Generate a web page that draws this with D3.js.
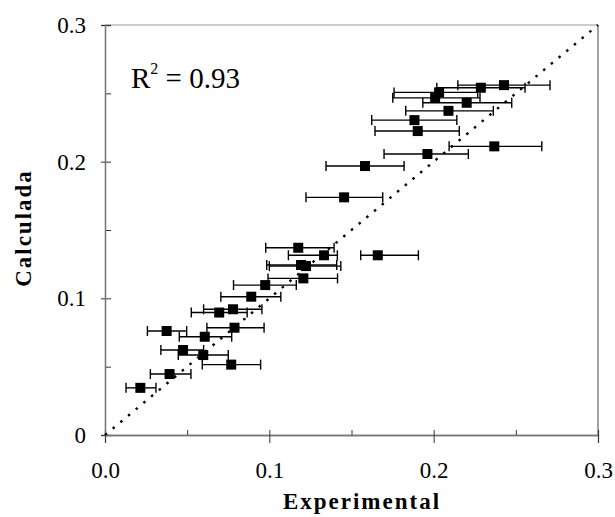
<!DOCTYPE html>
<html>
<head>
<meta charset="utf-8">
<script src="https://cdn.jsdelivr.net/npm/d3@7"></script>
<style>
  body { margin: 0; background: #fff; }
</style>
</head>
<body>
<svg id="chart"></svg>
<script>
// values
var expX   = [0.0215, 0.0393, 0.0375, 0.0475, 0.0598, 0.0607, 0.0768, 0.0788, 0.0695, 0.0779,
              0.0890, 0.0975, 0.1207, 0.1193, 0.1223, 0.1176, 0.1333, 0.1660, 0.1455, 0.1582,
              0.1962, 0.2369, 0.1903, 0.1883, 0.2090, 0.2201, 0.2033, 0.2009, 0.2287, 0.2428]
var calcY  = [0.0345, 0.0446, 0.0761, 0.0622, 0.0585, 0.0719, 0.0515, 0.0785, 0.0896, 0.0920,
              0.1012, 0.1097, 0.1146, 0.1244, 0.1236, 0.1370, 0.1315, 0.1315, 0.1739, 0.1968,
              0.2056, 0.2112, 0.2224, 0.2304, 0.2372, 0.2431, 0.2507, 0.2467, 0.2541, 0.2560]
var errLow = [0.0128, 0.0276, 0.0258, 0.0340, 0.0446, 0.0452, 0.0592, 0.0620, 0.0525, 0.0600,
              0.0705, 0.0782, 0.0992, 0.0984, 0.1000, 0.0978, 0.1116, 0.1556, 0.1223, 0.1345,
              0.1698, 0.2094, 0.1643, 0.1623, 0.1830, 0.1934, 0.1759, 0.1751, 0.2019, 0.2147]
var errHigh= [0.0310, 0.0523, 0.0497, 0.0600, 0.0750, 0.0771, 0.0947, 0.0968, 0.0865, 0.0955,
              0.1070, 0.1164, 0.1415, 0.1410, 0.1435, 0.1394, 0.1414, 0.1907, 0.1690, 0.1820,
              0.2211, 0.2658, 0.2156, 0.2141, 0.2363, 0.2475, 0.2268, 0.2282, 0.2556, 0.2708]

var xTicks = [0, 0.1, 0.2, 0.3]
var xTickLabels = ["0.0", "0.1", "0.2", "0.3"]
var yTicks = [0, 0.1, 0.2, 0.3]
var yTickLabels = ["0", "0.1", "0.2", "0.3"]
var minorTicks = [0, 0.05, 0.1, 0.15, 0.2, 0.25, 0.3]
var identityLine = [0, 0.3]

var serif = "'Liberation Serif', 'Times New Roman', serif"

var dimensions = {
    width: 615,
    height: 517,
    margin: { top: 25, bottom: 82, right: 17, left: 105 }
}

var svg = d3.select("#chart")
            .attr("width", dimensions.width)
            .attr("height", dimensions.height)

var dataset = expX.map((x, i) => ({ x: x, y: calcY[i], lo: errLow[i], hi: errHigh[i] }))

var xScale = d3.scaleLinear()
               .domain([0, 0.3])
               .range([dimensions.margin.left, dimensions.width - dimensions.margin.right])

var yScale = d3.scaleLinear()
               .domain([0, 0.3])
               .range([dimensions.height - dimensions.margin.bottom, dimensions.margin.top])

var x0 = xScale(0), x1 = xScale(0.3), y0 = yScale(0), y1 = yScale(0.3)

// frame: top and right are lighter
svg.append("line").attr("x1", x0).attr("x2", x1).attr("y1", y1).attr("y2", y1)
   .style("stroke", "#9a9a9a").style("stroke-width", 1.2)
svg.append("line").attr("x1", x1).attr("x2", x1).attr("y1", y1).attr("y2", y0)
   .style("stroke", "#444").style("stroke-width", 1)

// inner ticks (every 0.05)
var xInner = svg.append("g")
                .attr("transform", `translate(0,${y0})`)
                .call(d3.axisTop(xScale).tickValues(minorTicks).tickSize(5).tickFormat(""))
var yInner = svg.append("g")
                .attr("transform", `translate(${x0},0)`)
                .call(d3.axisRight(yScale).tickValues(minorTicks).tickSize(6).tickFormat(""))

// outer ticks with labels
var xAxis = svg.append("g")
               .attr("transform", `translate(0,${y0})`)
               .call(d3.axisBottom(xScale).tickValues(xTicks).tickSize(8).tickPadding(19)
                       .tickFormat((d, i) => xTickLabels[i]))
var yAxis = svg.append("g")
               .attr("transform", `translate(${x0},0)`)
               .call(d3.axisLeft(yScale).tickValues(yTicks).tickSize(4).tickPadding(15)
                       .tickFormat((d, i) => yTickLabels[i]))

svg.selectAll(".domain").style("stroke", "#777").style("stroke-width", 1.3)
svg.selectAll(".tick line").style("stroke", "#333").style("stroke-width", 1)
svg.selectAll(".tick text")
   .style("font-size", "23px")
   .style("fill", "#000")

// 1:1 dotted line
svg.append("line")
   .attr("x1", xScale(identityLine[0])).attr("y1", yScale(identityLine[0]))
   .attr("x2", xScale(identityLine[1])).attr("y2", yScale(identityLine[1]))
   .style("stroke", "#000")
   .style("stroke-width", 2.4)
   .style("stroke-dasharray", "2.5,7.5")

// error bars
var bars = svg.append("g").selectAll("g")
              .data(dataset)
              .enter().append("g")
              .style("stroke", "#000")
              .style("stroke-width", 1.4)

bars.append("line")
    .attr("x1", d => xScale(d.lo)).attr("x2", d => xScale(d.hi))
    .attr("y1", d => yScale(d.y)).attr("y2", d => yScale(d.y))
bars.append("line")
    .attr("x1", d => xScale(d.lo)).attr("x2", d => xScale(d.lo))
    .attr("y1", d => yScale(d.y) - 5).attr("y2", d => yScale(d.y) + 5)
bars.append("line")
    .attr("x1", d => xScale(d.hi)).attr("x2", d => xScale(d.hi))
    .attr("y1", d => yScale(d.y) - 5).attr("y2", d => yScale(d.y) + 5)

// squares
svg.append("g").selectAll("rect")
   .data(dataset)
   .enter().append("rect")
   .attr("x", d => xScale(d.x) - 5)
   .attr("y", d => yScale(d.y) - 5)
   .attr("width", 10)
   .attr("height", 10)
   .style("fill", "#000")

// R^2 note
var r2 = svg.append("text")
            .attr("x", 131)
            .attr("y", 88)
            .style("font-size", "29px")
r2.append("tspan").text("R")
r2.append("tspan").attr("dy", -14).style("font-size", "16px").text("2")
r2.append("tspan").attr("dy", 14).text(" = 0.93")

// axis titles
svg.append("text")
   .attr("x", 362)
   .attr("y", 509)
   .attr("text-anchor", "middle")
   .style("font-size", "23px")
   .style("font-weight", "bold")
   .style("letter-spacing", "2px")
   .text("Experimental")

svg.append("text")
   .attr("transform", "translate(31,228) rotate(-90)")
   .attr("text-anchor", "middle")
   .style("font-size", "23px")
   .style("font-weight", "bold")
   .style("letter-spacing", "2px")
   .text("Calculada")

svg.selectAll("g").attr("font-family", null)
svg.selectAll("text").style("font-family", serif)
</script>
</body>
</html>
